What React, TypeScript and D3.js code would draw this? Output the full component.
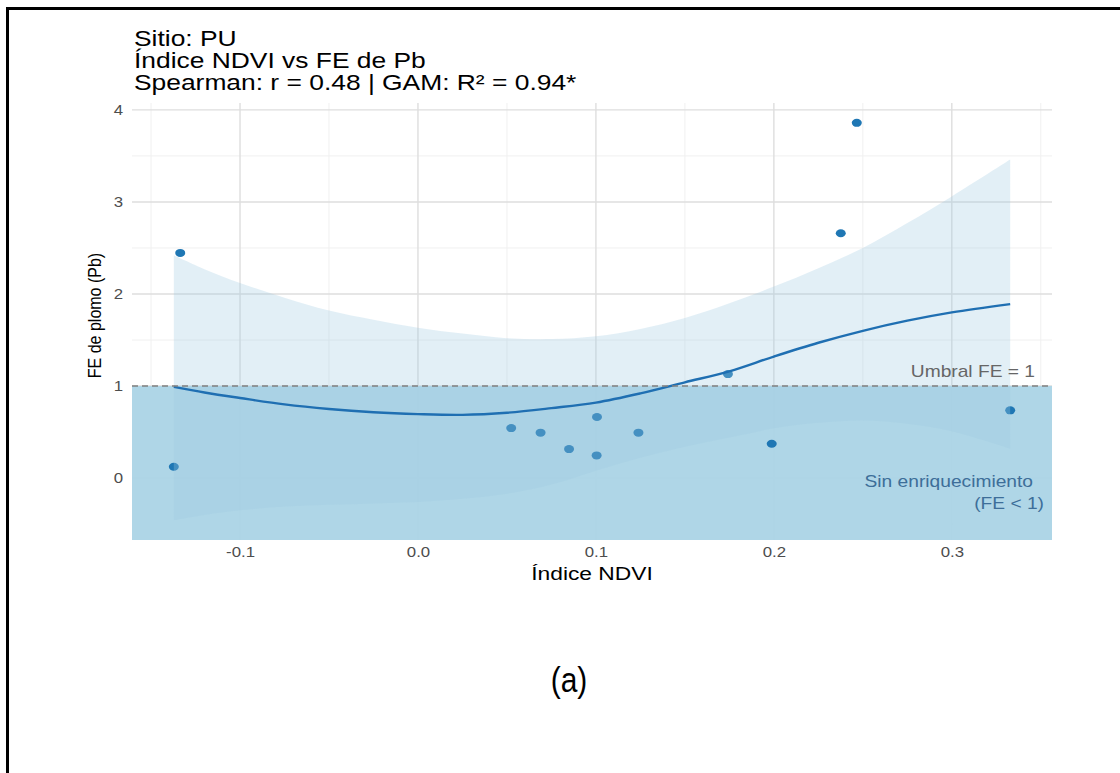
import React, { useEffect, useRef } from 'react';
import * as d3 from 'd3';

// observed points (NDVI vs enrichment factor of Pb)
const ndvi = [-0.1372, -0.1336, 0.0524, 0.0689, 0.0849, 0.1004, 0.1006, 0.1239, 0.1742, 0.1988, 0.2376, 0.2466, 0.3328];
const fePb = [0.123, 2.446, 0.543, 0.493, 0.315, 0.246, 0.663, 0.493, 1.13, 0.373, 2.66, 3.859, 0.736];

// GAM fit with its confidence band
const gamX = [-0.1372, -0.12, -0.1, -0.075, -0.05, -0.025, 0, 0.025, 0.05, 0.075, 0.1, 0.125, 0.15, 0.175, 0.2, 0.225, 0.25, 0.275, 0.3, 0.3328];
const gamFit = [0.99, 0.93, 0.87, 0.8, 0.75, 0.715, 0.695, 0.687, 0.71, 0.76, 0.82, 0.92, 1.04, 1.16, 1.32, 1.47, 1.6, 1.71, 1.8, 1.89];
const gamUpper = [2.42, 2.27, 2.12, 1.96, 1.82, 1.72, 1.634, 1.57, 1.52, 1.51, 1.54, 1.62, 1.74, 1.9, 2.08, 2.28, 2.5, 2.77, 3.06, 3.46];
const gamLower = [-0.457, -0.4, -0.35, -0.31, -0.29, -0.275, -0.26, -0.225, -0.17, -0.07, 0.08, 0.22, 0.34, 0.44, 0.54, 0.6, 0.625, 0.59, 0.51, 0.32];

const xTicks = [-0.1, 0.0, 0.1, 0.2, 0.3];
const xMinor = [-0.15, -0.05, 0.05, 0.15, 0.25, 0.35];
const yTicks = [0, 1, 2, 3, 4];
const yMinor = [-0.5, 0.5, 1.5, 2.5, 3.5];
const threshold = 1;

const titleLines = ['Sitio: PU', 'Índice NDVI vs FE de Pb', 'Spearman: r = 0.48 | GAM: R² = 0.94*'];

const FONT = '"Liberation Sans", Arial, Helvetica, sans-serif';
const SX = 1.2; // the source picture is stretched sideways

const App = () => {
    const ref = useRef<SVGSVGElement>(null);

    useEffect(() => {
        const width = 1120;
        const height = 773;
        const margin = { top: 103, right: 68, bottom: 233, left: 132 };

        const svg = d3.select(ref.current);
        svg.selectAll('*').remove();
        svg.attr('width', width).attr('height', height);

        // ggplot style 5% expansion
        const xExt = d3.extent(ndvi) as [number, number];
        const yLo = Math.min(d3.min(fePb)!, d3.min(gamLower)!);
        const yHi = Math.max(d3.max(fePb)!, d3.max(gamUpper)!);
        const xPad = (xExt[1] - xExt[0]) * 0.05;
        const yPad = (yHi - yLo) * 0.05;

        const x = d3.scaleLinear()
            .domain([xExt[0] - xPad, xExt[1] + xPad])
            .range([margin.left, width - margin.right]);
        const y = d3.scaleLinear()
            .domain([yLo - yPad, yHi + yPad])
            .range([height - margin.bottom, margin.top]);

        const [x0, x1] = x.range();
        const [y0, y1] = y.range();

        // frame around the figure (top and left only)
        svg.append('line').attr('x1', 6).attr('x2', width).attr('y1', 8.5).attr('y2', 8.5)
            .attr('stroke', '#000').attr('stroke-width', 3);
        svg.append('line').attr('x1', 7.5).attr('x2', 7.5).attr('y1', 7).attr('y2', height)
            .attr('stroke', '#000').attr('stroke-width', 3);

        // grid
        const grid = svg.append('g');
        grid.selectAll('.xmin').data(xMinor.filter(d => x(d) >= x0 && x(d) <= x1)).enter().append('line')
            .attr('x1', d => x(d)).attr('x2', d => x(d)).attr('y1', y1).attr('y2', y0)
            .attr('stroke', '#f0f0f0').attr('stroke-width', 1);
        grid.selectAll('.ymin').data(yMinor).enter().append('line')
            .attr('x1', x0).attr('x2', x1).attr('y1', d => y(d)).attr('y2', d => y(d))
            .attr('stroke', '#f0f0f0').attr('stroke-width', 1);
        grid.selectAll('.xmaj').data(xTicks).enter().append('line')
            .attr('x1', d => x(d)).attr('x2', d => x(d)).attr('y1', y1).attr('y2', y0)
            .attr('stroke', '#dedede').attr('stroke-width', 1.4);
        grid.selectAll('.ymaj').data(yTicks).enter().append('line')
            .attr('x1', x0).attr('x2', x1).attr('y1', d => y(d)).attr('y2', d => y(d))
            .attr('stroke', '#dedede').attr('stroke-width', 1.4);

        // "no enrichment" zone below the threshold
        svg.append('rect')
            .attr('x', x0).attr('y', y(threshold))
            .attr('width', x1 - x0).attr('height', y0 - y(threshold))
            .attr('fill', '#abd4e6').attr('opacity', 0.95);

        // points
        svg.append('g').selectAll('ellipse')
            .data(ndvi.map((v, i) => [v, fePb[i]]))
            .enter()
            .append('ellipse')
            .attr('cx', d => x(d[0]))
            .attr('cy', d => y(d[1]))
            .attr('rx', 5)
            .attr('ry', 4)
            .attr('fill', '#1f77b4');

        // confidence band
        const band = d3.area<number>()
            .x((d, i) => x(gamX[i]))
            .y0((d, i) => y(gamLower[i]))
            .y1((d, i) => y(gamUpper[i]))
            .curve(d3.curveCatmullRom);
        svg.append('path').datum(gamX)
            .attr('d', band)
            .attr('fill', '#9ecae1')
            .attr('opacity', 0.3);

        // fitted line
        const fit = d3.line<number>()
            .x((d, i) => x(gamX[i]))
            .y((d, i) => y(gamFit[i]))
            .curve(d3.curveCatmullRom);
        svg.append('path').datum(gamX)
            .attr('d', fit)
            .attr('fill', 'none')
            .attr('stroke', '#1f6fb2')
            .attr('stroke-width', 2.4);

        // threshold line
        svg.append('line')
            .attr('x1', x0).attr('x2', x1)
            .attr('y1', y(threshold)).attr('y2', y(threshold))
            .attr('stroke', '#808080').attr('stroke-width', 1.5)
            .attr('stroke-dasharray', '6,4');

        // axes
        const xAxis = svg.append('g')
            .attr('transform', `translate(0,${y0})`)
            .call(d3.axisBottom(x).tickValues(xTicks).tickSize(0).tickPadding(7).tickFormat(d => (+d).toFixed(1)));
        const yAxis = svg.append('g')
            .attr('transform', `translate(${x0},0)`)
            .call(d3.axisLeft(y).tickValues(yTicks).tickSize(0).tickPadding(7.5).tickFormat(d => String(d)));
        [xAxis, yAxis].forEach(a => {
            a.select('.domain').remove();
            a.selectAll('text')
                .attr('font-family', FONT)
                .attr('font-size', 14)
                .attr('fill', '#4d4d4d')
                .attr('transform', `scale(${SX},1)`);
        });

        const label = (txt: string, px: number, py: number, size: number, fill: string, anchor = 'start') =>
            svg.append('text')
                .attr('transform', `translate(${px},${py}) scale(${SX},1)`)
                .attr('font-family', FONT)
                .attr('font-size', size)
                .attr('fill', fill)
                .attr('text-anchor', anchor)
                .text(txt);

        // title
        titleLines.forEach((t, i) => label(t, 134, 46 + i * 22, 22, '#000'));

        // axis titles
        label('Índice NDVI', (x0 + x1) / 2, 580, 19, '#000', 'middle');
        svg.append('text')
            .attr('transform', `translate(101,${(y0 + y1) / 2 - 6}) rotate(-90) scale(1,1.15)`)
            .attr('font-family', FONT)
            .attr('font-size', 16)
            .attr('text-anchor', 'middle')
            .attr('fill', '#000')
            .text('FE de plomo (Pb)');

        // annotations
        label('Umbral FE = 1', x1 - 17, y(threshold) - 9, 16, '#666666', 'end');
        label('Sin enriquecimiento', x1 - 19, 487, 16, '#3d6e99', 'end');
        label('(FE < 1)', x1 - 8, 509, 16, '#3d6e99', 'end');

        // panel caption
        svg.append('text')
            .attr('transform', `translate(569,692) scale(1,1.15)`)
            .attr('font-family', FONT)
            .attr('font-size', 30)
            .attr('text-anchor', 'middle')
            .attr('fill', '#000')
            .text('(a)');
    }, []);

    return (
        <svg ref={ref} style={{ position: 'absolute', left: 0, top: 0, display: 'block', background: '#fff' }}></svg>
    );
};

export default App;
